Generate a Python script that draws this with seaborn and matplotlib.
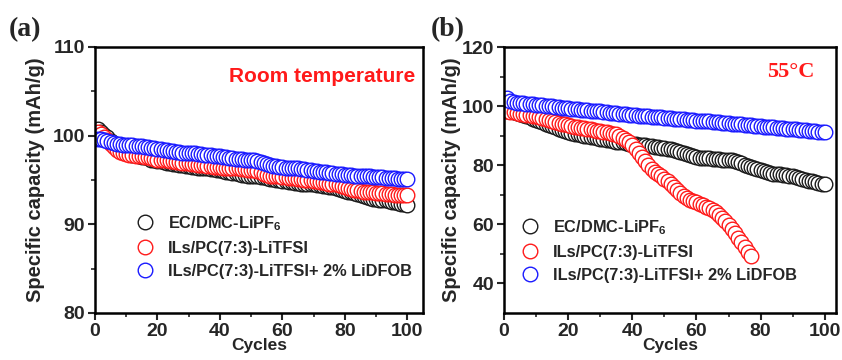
import pandas as pd
import matplotlib
matplotlib.use("Agg")
import matplotlib.pyplot as plt
import seaborn as sns

# datos (capacidad en mAh/g por ciclo)
series_labels = ["EC/DMC-LiPF$_{6}$", "ILs/PC(7:3)-LiTFSI", "ILs/PC(7:3)-LiTFSI+ 2% LiDFOB"]
series_colors = ["#1a1a1a", "#ff1a1a", "#1a1aff"]

rt_ecdmc = [100.7, 100.4, 100.1, 99.8, 99.4, 99.0, 98.7, 98.4, 98.2, 98.0,
            97.9, 97.8, 97.8, 97.7, 97.6, 97.6, 97.5, 97.3, 97.2, 97.1,
            97.1, 97.0, 96.9, 96.9, 96.8, 96.8, 96.7, 96.7, 96.6, 96.6,
            96.5, 96.5, 96.4, 96.4, 96.3, 96.3, 96.2, 96.2, 96.1, 96.1,
            96.0, 95.9, 95.9, 95.8, 95.8, 95.7, 95.6, 95.6, 95.5, 95.5,
            95.4, 95.4, 95.3, 95.3, 95.2, 95.1, 95.1, 95.0, 95.0, 94.9,
            94.9, 94.8, 94.8, 94.7, 94.7, 94.6, 94.6, 94.5, 94.5, 94.5,
            94.4, 94.4, 94.3, 94.3, 94.2, 94.2, 94.1, 94.0, 93.9, 93.8,
            93.7, 93.6, 93.5, 93.4, 93.3, 93.2, 93.1, 93.0, 92.9, 92.9,
            92.8, 92.7, 92.7, 92.6, 92.5, 92.5, 92.4, 92.3, 92.3, 92.2]
rt_ils = [100.4, 100.2, 99.9, 99.5, 99.1, 98.7, 98.4, 98.2, 98.0, 97.9,
          97.8, 97.8, 97.7, 97.7, 97.7, 97.6, 97.6, 97.5, 97.4, 97.3,
          97.3, 97.2, 97.2, 97.1, 97.1, 97.0, 97.0, 96.9, 96.9, 96.9,
          96.8, 96.8, 96.7, 96.7, 96.7, 96.6, 96.6, 96.5, 96.5, 96.5,
          96.4, 96.4, 96.4, 96.3, 96.3, 96.3, 96.2, 96.2, 96.1, 96.1,
          96.1, 96.0, 95.9, 95.7, 95.6, 95.5, 95.5, 95.4, 95.4, 95.3,
          95.3, 95.2, 95.2, 95.2, 95.1, 95.1, 95.0, 95.0, 95.0, 94.9,
          94.9, 94.8, 94.8, 94.7, 94.6, 94.6, 94.5, 94.4, 94.3, 94.2,
          94.1, 94.0, 93.9, 93.9, 93.8, 93.7, 93.7, 93.6, 93.6, 93.5,
          93.5, 93.5, 93.4, 93.4, 93.4, 93.3, 93.3, 93.3, 93.3, 93.3]
rt_dfob = [99.6, 99.6, 99.5, 99.4, 99.3, 99.2, 99.1, 99.1, 99.0, 99.0,
           98.9, 98.9, 98.8, 98.8, 98.8, 98.7, 98.7, 98.6, 98.6, 98.5,
           98.5, 98.4, 98.4, 98.3, 98.3, 98.2, 98.2, 98.1, 98.1, 98.0,
           98.0, 98.0, 97.9, 97.9, 97.8, 97.8, 97.8, 97.7, 97.7, 97.7,
           97.6, 97.6, 97.5, 97.5, 97.4, 97.4, 97.4, 97.3, 97.3, 97.2,
           97.2, 97.1, 97.0, 96.9, 96.8, 96.7, 96.6, 96.6, 96.5, 96.5,
           96.4, 96.4, 96.3, 96.3, 96.3, 96.2, 96.2, 96.1, 96.1, 96.0,
           96.0, 95.9, 95.9, 95.9, 95.8, 95.8, 95.7, 95.7, 95.7, 95.6,
           95.6, 95.6, 95.5, 95.5, 95.5, 95.4, 95.4, 95.4, 95.3, 95.3,
           95.3, 95.3, 95.2, 95.2, 95.2, 95.2, 95.1, 95.1, 95.1, 95.1]

ht_ecdmc = [98.5, 98.3, 98.0, 97.8, 97.5, 97.1, 96.7, 96.3, 95.8, 95.3,
            94.9, 94.5, 94.1, 93.6, 93.2, 92.8, 92.4, 92.0, 91.6, 91.2,
            90.9, 90.7, 90.4, 90.2, 90.0, 89.8, 89.6, 89.4, 89.2, 89.0,
            88.8, 88.6, 88.4, 88.2, 88.0, 87.8, 87.7, 87.5, 87.3, 87.2,
            87.1, 86.9, 86.8, 86.7, 86.5, 86.4, 86.2, 86.1, 85.9, 85.8,
            85.6, 85.4, 85.2, 84.9, 84.6, 84.2, 83.8, 83.4, 83.1, 82.8,
            82.6, 82.5, 82.4, 82.3, 82.2, 82.1, 82.0, 81.9, 81.9, 81.8,
            81.6, 81.3, 81.0, 80.6, 80.2, 79.8, 79.4, 79.0, 78.7, 78.4,
            78.0, 77.6, 77.3, 77.1, 77.0, 76.9, 76.8, 76.6, 76.4, 76.2,
            76.0, 75.7, 75.4, 75.1, 74.8, 74.5, 74.2, 74.0, 73.8, 73.7]
ht_ils = [98.3, 98.1, 97.9, 97.7, 97.5, 97.3, 97.1, 96.9, 96.7, 96.5,
          96.2, 95.9, 95.6, 95.3, 95.0, 94.7, 94.4, 94.1, 93.8, 93.6,
          93.3, 93.1, 92.9, 92.7, 92.5, 92.3, 92.1, 91.9, 91.7, 91.5,
          91.3, 91.1, 90.9, 90.7, 90.4, 89.9, 89.3, 88.5, 87.7, 86.8,
          85.6, 84.2, 82.8, 81.3, 80.0, 78.8, 77.8, 77.0, 76.2, 75.4,
          74.6, 73.6, 72.6, 71.6, 70.6, 69.7, 69.0, 68.4, 67.9, 67.5,
          67.0, 66.5, 66.0, 65.4, 64.8, 64.1, 63.2, 62.2, 61.0, 59.7,
          58.4, 57.0, 55.5, 53.9, 52.3, 50.8, 49.4]
ht_dfob = [102.8, 101.8, 101.4, 101.2, 101.0, 100.9, 100.8, 100.7, 100.6, 100.5,
           100.4, 100.3, 100.2, 100.1, 100.0, 99.8, 99.7, 99.5, 99.4, 99.2,
           99.1, 99.0, 98.9, 98.8, 98.7, 98.6, 98.5, 98.4, 98.3, 98.2,
           98.0, 97.9, 97.8, 97.7, 97.6, 97.5, 97.4, 97.3, 97.1, 97.0,
           96.9, 96.8, 96.7, 96.6, 96.5, 96.4, 96.4, 96.3, 96.2, 96.1,
           96.0, 95.9, 95.8, 95.7, 95.6, 95.5, 95.4, 95.3, 95.2, 95.1,
           95.0, 94.9, 94.8, 94.8, 94.7, 94.6, 94.5, 94.4, 94.3, 94.2,
           94.1, 94.0, 93.9, 93.8, 93.7, 93.6, 93.5, 93.4, 93.3, 93.2,
           93.1, 93.0, 92.9, 92.8, 92.7, 92.6, 92.5, 92.4, 92.3, 92.2,
           92.1, 92.0, 91.9, 91.8, 91.7, 91.6, 91.5, 91.4, 91.3, 91.2]

sns.set_style("ticks")
plt.rcParams["font.family"] = ["Liberation Sans", "DejaVu Sans"]
plt.rcParams["font.weight"] = "bold"
plt.rcParams["axes.labelweight"] = "bold"
plt.rcParams["mathtext.fontset"] = "custom"
plt.rcParams["mathtext.rm"] = "Liberation Sans:bold"
plt.rcParams["mathtext.bf"] = "Liberation Sans:bold"
plt.rcParams["mathtext.default"] = "regular"

fig = plt.figure(figsize=(8.42, 3.6), dpi=100)
ax1 = fig.add_axes([95 / 842, 47 / 360, 328 / 842, 266 / 360])
ax2 = fig.add_axes([504 / 842, 47 / 360, 332 / 842, 266 / 360])


def dibujar(ax, datos):
    for vals, lab, col in zip(datos, series_labels, series_colors):
        df = pd.DataFrame({"ciclo": range(1, len(vals) + 1), "cap": vals})
        sns.lineplot(data=df, x="ciclo", y="cap", ax=ax, label=lab, color=col,
                     linestyle="", marker="o", markersize=10.5,
                     markerfacecolor="white", markeredgecolor=col,
                     markeredgewidth=1.0)


dibujar(ax1, [rt_ecdmc, rt_ils, rt_dfob])
dibujar(ax2, [ht_ecdmc, ht_ils, ht_dfob])

ax1.set_xlim(0, 105)
ax1.set_ylim(80, 110)
ax1.set_yticks([80, 90, 100, 110])
ax1.set_yticks([85, 95, 105], minor=True)
ax2.set_xlim(0, 103.5)
ax2.set_ylim(30, 120)
ax2.set_yticks([40, 60, 80, 100, 120])
ax2.set_yticks([50, 70, 90, 110], minor=True)

for ax, lp, anc in [(ax1, 6, (0.1275, 0.372)), (ax2, 1.0, (0.0536, 0.357))]:
    ax.set_xticks([0, 20, 40, 60, 80, 100])
    ax.set_xticks([10, 30, 50, 70, 90], minor=True)
    for s in ax.spines.values():
        s.set_visible(True)
        s.set_linewidth(1.8)
        s.set_color("black")
    ax.tick_params(which="major", direction="out", length=5, width=1.5,
                   labelsize=14, pad=2)
    ax.tick_params(which="minor", direction="out", length=3, width=1.2)
    for t in ax.get_xticklabels() + ax.get_yticklabels():
        t.set_fontweight("bold")
    ax.set_xlabel("Cycles", fontsize=12.5, fontweight="bold", labelpad=-1.5)
    ax.set_ylabel("Specific capacity (mAh/g)", fontsize=14.5, fontweight="bold", labelpad=lp)
    leg = ax.legend(loc="upper left", bbox_to_anchor=anc, frameon=False,
                    fontsize=11.8, handlelength=1.0, handletextpad=0.9,
                    labelspacing=0.5, borderpad=0, borderaxespad=0)
    for t in leg.get_texts():
        t.set_fontweight("bold")

ax1.text(0.976, 0.888, "Room temperature", transform=ax1.transAxes, ha="right",
         va="center", color="#ff1a1a", fontsize=15, fontweight="bold")
ax2.text(0.864, 0.906, "55\u00b0C", transform=ax2.transAxes, ha="center",
         va="center", color="#ff1a1a", fontsize=16, fontweight="bold",
         family="Liberation Serif")

fig.text(0.010, 0.919, "(a)", ha="left", va="center", fontsize=20,
         fontweight="bold", family="Liberation Serif")
fig.text(0.512, 0.919, "(b)", ha="left", va="center", fontsize=20,
         fontweight="bold", family="Liberation Serif")

fig.savefig("out.png", dpi=100)
